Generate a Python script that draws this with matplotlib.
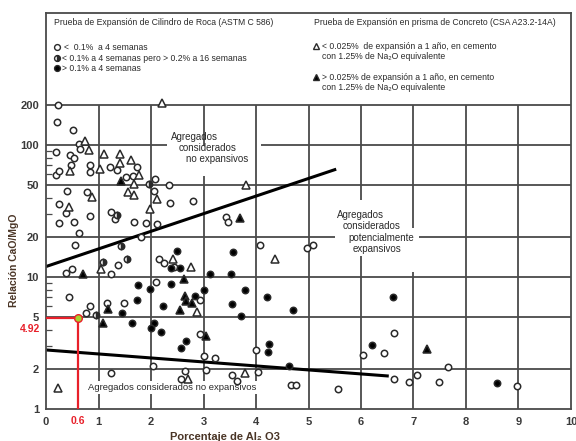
import numpy as np
import matplotlib.pyplot as plt
from matplotlib.ticker import FixedLocator, NullFormatter

plt.rcParams["font.family"] = ["Liberation Sans", "DejaVu Sans"]

# ASTM C 586 -- open circles (< 0.1% at 4 weeks)
oc_x = [0.22, 0.21, 0.51, 0.62, 0.65, 0.19, 0.45, 0.54, 0.47, 0.83, 0.84, 0.19, 0.25,
        1.22, 1.36, 1.73, 1.53, 1.66, 2.08, 2.34, 0.40, 0.78, 2.06, 2.37, 2.80, 0.25,
        0.38, 0.83, 1.24, 1.32, 0.24, 0.54, 1.67, 1.91, 2.12, 0.62, 0.55, 1.80, 3.42,
        3.47, 4.07, 4.97, 5.08, 2.15, 2.24, 1.38, 2.43, 0.39, 0.49, 1.24, 2.10, 0.43,
        2.93, 1.16, 1.48, 0.84, 0.76, 2.93, 3.01, 3.22, 4.00, 2.03, 1.24, 2.65, 2.58,
        3.05, 3.55, 3.63, 4.03, 4.67, 4.77, 6.62, 6.04, 6.43, 7.66, 6.63, 6.91, 7.07,
        7.48, 5.56, 8.97]
oc_y = [200, 150, 130, 102, 94, 88, 84, 80, 70, 70, 62, 59, 63,
        68, 65, 68, 57, 58, 55, 50, 45, 44, 45, 36.5, 37.7, 36,
        30.5, 29, 31, 27.5, 25.7, 26, 26.3, 25.7, 25.2, 21.6, 17.5, 20, 28.3,
        26, 17.4, 16.5, 17.6, 13.8, 12.8, 12.3, 11.8, 10.8, 11.4, 10.5, 9.1, 7.1,
        6.7, 6.4, 6.4, 6.0, 5.3, 3.7, 2.52, 2.42, 2.8, 2.1, 1.86, 1.95, 1.7,
        1.97, 1.81, 1.62, 1.92, 1.52, 1.52, 3.74, 2.56, 2.67, 2.09, 1.69, 1.59, 1.81,
        1.59, 1.42, 1.49]

# half-filled circles (< 0.1% at 4 weeks but > 0.2% at 16 weeks)
hc_x = [1.96, 1.36, 1.43, 1.08, 1.55, 0.95]
hc_y = [50.5, 29.5, 17.1, 13.0, 13.8, 5.15]

# filled circles (> 0.1% at 4 weeks)
fc_x = [2.50, 3.57, 2.38, 2.56, 3.12, 3.53, 1.75, 2.39, 1.98, 3.00, 3.79, 2.84, 1.73,
        2.22, 3.54, 3.72, 1.45, 1.64, 2.06, 2.00, 2.19, 2.67, 2.58, 4.25, 4.22, 4.20,
        4.71, 4.63, 6.61, 6.21, 8.59]
fc_y = [15.7, 15.5, 11.7, 11.7, 10.6, 10.6, 8.7, 8.9, 8.1, 8.0, 8.0, 7.2, 6.7,
        6.0, 6.2, 5.1, 5.3, 4.45, 4.5, 4.1, 3.8, 3.3, 2.9, 3.1, 2.72, 7.0,
        5.6, 2.12, 7.1, 3.05, 1.58]

# CSA A23.2-14A -- open triangles (< 0.025% at 1 year)
ot_x = [2.20, 0.74, 0.82, 1.11, 1.41, 1.61, 0.46, 1.02, 1.40, 1.78, 1.67, 3.81, 0.87,
        1.57, 1.68, 2.11, 0.43, 1.98, 4.36, 2.42, 2.77, 1.05, 2.88, 2.71, 3.79, 0.22]
ot_y = [209, 108, 92, 86, 86, 77, 63, 66, 72.6, 59, 51, 50, 40.6,
        44, 42, 39, 34, 33, 13.6, 13.8, 12, 11.5, 5.45, 1.7, 1.88, 1.43]

# filled triangles (> 0.025% at 1 year)
ft_x = [1.42, 3.70, 0.70, 2.62, 2.65, 2.66, 2.78, 1.18, 2.55, 1.09, 3.05, 7.26]
ft_y = [53, 28, 10.5, 9.7, 7.2, 6.6, 6.4, 5.7, 5.6, 4.45, 3.6, 2.84]

# boundary lines
upper_x = [0, 5.5]
upper_y = [12, 65]
lower_x = [0, 6.5]
lower_y = [2.8, 1.78]

# highlighted sample
hl_x = 0.6
hl_y = 4.92

x_ticks = list(range(0, 11))
y_ticks = [1, 2, 5, 10, 20, 50, 100, 200]
y_minor = [3, 4, 6, 7, 8, 9, 30, 40, 60, 70, 80, 90]

grid_c = "#4a4a4a"
dark = "#2a2a2a"

fig = plt.figure(figsize=(5.76, 4.41), dpi=100)
ax = fig.add_axes([0.0799, 0.0726, 0.9114, 0.898])
ax.set_yscale("log")
ax.set_xlim(0, 10)
ax.set_ylim(1, 1000)

# grid, with the gaps the original has around the text blocks
v_gaps = {3: (58, 98), 6: (14.3, 38), 7: (10.9, 23.5)}
h_gaps = {100: (2.3, 4.1), 20: (5.5, 7.1)}
for x in range(1, 10):
    g = v_gaps.get(x)
    segs = [(1, 200)] if g is None else [(1, g[0]), (g[1], 200)]
    for a, b in segs:
        ax.vlines(x, a, b, color=grid_c, lw=1.3, zorder=1)
for y in y_ticks[1:]:
    g = h_gaps.get(y)
    segs = [(0, 10)] if g is None else [(0, g[0]), (g[1], 10)]
    for a, b in segs:
        ax.hlines(y, a, b, color=grid_c, lw=1.3, zorder=1)

ax.plot(upper_x, upper_y, color="black", lw=2.2, zorder=2)
ax.plot(lower_x, lower_y, color="black", lw=2.2, zorder=2)

mk = dict(ls="none", mec=dark, mew=1.1, zorder=4)
ax.plot(oc_x, oc_y, marker="o", ms=4.6, mfc="white", **mk)
ax.plot(hc_x, hc_y, marker="o", ms=4.6, mfc=dark, fillstyle="right",
        markerfacecoloralt="white", **mk)
ax.plot(fc_x, fc_y, marker="o", ms=4.6, mfc="black", **mk)
ax.plot(ot_x, ot_y, marker="^", ms=5.2, mfc="white", **mk)
ax.plot(ft_x, ft_y, marker="^", ms=5.2, mfc="black", **mk)

# highlighted point with guide lines
red = "#e8202a"
ax.plot([0, hl_x], [hl_y, hl_y], color=red, lw=1.6, zorder=3)
ax.plot([hl_x, hl_x], [1, hl_y], color=red, lw=1.6, zorder=3)
ax.plot([hl_x], [hl_y], marker="o", ms=5.5, mfc="#a6d22b", mec=red, mew=1.0, zorder=5)
ax.annotate(f"{hl_y:.2f}", xy=(0, hl_y), xytext=(-4, -8.5), textcoords="offset points",
            ha="right", va="center", color=red, fontsize=7.5, fontweight="bold",
            annotation_clip=False)
ax.annotate(f"{hl_x:g}", xy=(hl_x, 1), xytext=(0, -9), textcoords="offset points",
            ha="center", va="center", color=red, fontsize=7.5, fontweight="bold",
            annotation_clip=False)

# region labels
txt = dict(fontsize=7, color=dark, ha="left", va="center", zorder=3)
for dx, ty, s in [(0, 137, "Agregados"), (8, 148, "considerados"), (15, 159, "no expansivos")]:
    ax.text((171 + dx - 46) / 525, (409 - ty) / 396, s, transform=ax.transAxes, **txt)
for dx, ty, s in [(0, 215, "Agregados"), (6, 226.5, "considerados"),
                  (11, 238, "potencialmente"), (16, 249.5, "expansivos")]:
    ax.text((337 + dx - 46) / 525, (409 - ty) / 396, s, transform=ax.transAxes, **txt)
ax.text(0.80, 1.46, "Agregados considerados no expansivos", fontsize=6.8, color=dark,
        ha="left", va="center", zorder=3,
        bbox=dict(facecolor="white", edgecolor="none", pad=1.5))

# legend block in the top part of the frame
lg = dict(fontsize=6.2, color=dark, ha="left", va="center", transform=ax.transAxes)
ax.text(0.015, 0.977, "Prueba de Expansión de Cilindro de Roca (ASTM C 586)", **lg)
ax.text(0.510, 0.977, "Prueba de Expansión en prisma de Concreto (CSA A23.2-14A)", **lg)
lm = dict(ls="none", mec=dark, mew=1.0, transform=ax.transAxes, clip_on=False)
ax.plot([0.020], [0.914], marker="o", ms=4.2, mfc="white", **lm)
ax.plot([0.020], [0.886], marker="o", ms=4.2, mfc=dark, fillstyle="right",
        markerfacecoloralt="white", **lm)
ax.plot([0.020], [0.861], marker="o", ms=4.2, mfc="black", **lm)
ax.plot([0.515], [0.916], marker="^", ms=4.6, mfc="white", **lm)
ax.plot([0.515], [0.838], marker="^", ms=4.6, mfc="black", **lm)
ax.text(0.034, 0.914, "<  0.1%  a 4 semanas", **lg)
ax.text(0.031, 0.886, "< 0.1% a 4 semanas pero > 0.2% a 16 semanas", **lg)
ax.text(0.031, 0.861, "> 0.1% a 4 semanas", **lg)
ax.text(0.526, 0.916, "< 0.025%  de expansión a 1 año, en cemento", **lg)
ax.text(0.526, 0.889, "con 1.25% de Na₂O equivalente", **lg)
ax.text(0.526, 0.838, "> 0.025% de expansión a 1 año, en cemento", **lg)
ax.text(0.526, 0.812, "con 1.25% de Na₂O equivalente", **lg)

# axes styling
for sp in ax.spines.values():
    sp.set_color(grid_c)
    sp.set_linewidth(1.3)
ax.set_xticks(x_ticks)
ax.set_xticklabels([str(v) for v in x_ticks])
ax.yaxis.set_major_locator(FixedLocator(y_ticks))
ax.set_yticklabels([str(v) for v in y_ticks])
ax.yaxis.set_minor_locator(FixedLocator(y_minor))
ax.yaxis.set_minor_formatter(NullFormatter())
ax.tick_params(axis="both", which="major", length=0, labelsize=8, labelcolor="#3a3a3a")
ax.tick_params(axis="x", pad=6)
ax.tick_params(axis="y", pad=5)
ax.tick_params(axis="y", which="minor", direction="in", length=4, width=0.9, color=grid_c)
ax.tick_params(axis="x", which="minor", length=0)
for lab in ax.get_xticklabels() + ax.get_yticklabels():
    lab.set_fontweight("bold")

ax.set_xlabel("Porcentaje de Al₂ O3", fontsize=8, fontweight="bold", color="#4a3526")
ax.xaxis.set_label_coords(0.34, -0.058)
ax.set_ylabel("Relación CaO/MgO", fontsize=7.5, fontweight="bold", color="#4a3526")
ax.yaxis.set_label_coords(-0.052, 0.376)

fig.savefig("out.png", dpi=100)
